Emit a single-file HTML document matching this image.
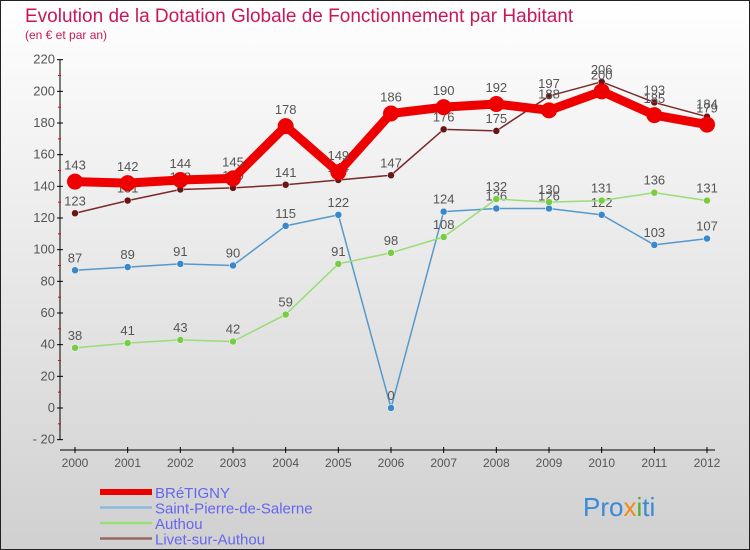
<!DOCTYPE html>
<html><head><meta charset="utf-8"><style>
body{margin:0;}
#wrap{width:750px;height:550px;position:relative;overflow:hidden;font-family:"Liberation Sans",sans-serif;}
</style></head><body>
<div id="wrap">
<svg id="svg" width="750" height="550" xmlns="http://www.w3.org/2000/svg">
<defs><linearGradient id="bg" x1="0" y1="0" x2="0" y2="1"><stop offset="0" stop-color="#ffffff"/><stop offset="1" stop-color="#d0d0d0"/></linearGradient></defs>
<rect x="0.5" y="0.5" width="749" height="549" fill="url(#bg)" stroke="#222"/>
<text x="25" y="22" font-size="19" fill="#c8185a">Evolution de la Dotation Globale de Fonctionnement par Habitant</text>
<text x="25" y="39" font-size="12" fill="#c8185a">(en € et par an)</text>
<g id="axes"></g><g id="series"></g><g id="legend"></g>
<text x="583" y="516" font-size="26" fill="#3a8ad8">Pro<tspan fill="#f08a1a">x</tspan><tspan fill="#55aa33">i</tspan>ti</text>
</svg></div>
<script>
const years=[2000,2001,2002,2003,2004,2005,2006,2007,2008,2009,2010,2011,2012];
const yTicks=[-20,0,20,40,60,80,100,120,140,160,180,200,220];
const names=["BRéTIGNY","Saint-Pierre-de-Salerne","Authou","Livet-sur-Authou"];
const bretigny=[143,142,144,145,178,149,186,190,192,188,200,185,179];
const stPierre=[87,89,91,90,115,122,0,124,126,126,122,103,107];
const authou=[38,41,43,42,59,91,98,108,132,130,131,136,131];
const livet=[123,131,138,139,141,144,147,176,175,197,206,193,184];
const NS="http://www.w3.org/2000/svg";
const X=i=>75+i*(632/12);
const Y=v=>408-v*(380/240);
function mk(p,t,a){const e=document.createElementNS(NS,t);for(const k in a)e.setAttribute(k,a[k]);p.appendChild(e);return e;}
const ax=document.getElementById('axes');
mk(ax,'line',{x1:60,y1:60,x2:60,y2:440,stroke:'#000'});
mk(ax,'line',{x1:60,y1:450,x2:715,y2:450,stroke:'#000'});
yTicks.forEach((t,i)=>{const y=Y(t);
 mk(ax,'line',{x1:57,y1:y,x2:63,y2:y,stroke:'#000'});
 if(i<yTicks.length-1)mk(ax,'line',{x1:58,y1:Y(t+10),x2:61,y2:Y(t+10),stroke:'#e00'});
 const tx=mk(ax,'text',{x:55,y:y+4,'font-size':13,fill:'#555','text-anchor':'end'});tx.textContent=t<0?'- '+(-t):t;
 
 });
years.forEach((yr,i)=>{const x=X(i);
 mk(ax,'line',{x1:x,y1:447,x2:x,y2:453,stroke:'#000'});
 const tx=mk(ax,'text',{x:x,y:467,'font-size':12,fill:'#555','text-anchor':'middle'});tx.textContent=yr;
 
 });
const sg=document.getElementById('series');
const defs=[
 {d:stPierre,c:'#5599cc',pc:'#3a88cc',w:1.5,r:3.5,n:'saint-pierre'},
 {d:authou,c:'#99dd77',pc:'#77cc44',w:1.5,r:3.5,n:'authou'},
 {d:livet,c:'#7a2a2a',pc:'#6a1515',w:1.5,r:3.5,n:'livet'},
 {d:bretigny,c:'#ee0000',pc:'#ee0000',w:9,r:8,n:'bretigny'}];
defs.forEach(s=>{
 const g=mk(sg,'g',{});
 
 
 mk(g,'polyline',{points:s.d.map((v,i)=>X(i)+','+Y(v)).join(' '),fill:'none',stroke:s.c,'stroke-width':s.w,'stroke-linejoin':'round'});
 s.d.forEach((v,i)=>{
  const c=mk(g,'circle',{cx:X(i),cy:Y(v),r:s.r,fill:s.pc,stroke:s.r>5?'none':'#fff','stroke-width':0.5});
  
  
  const t=mk(g,'text',{x:X(i),y:Y(v)-(s.r>5?12:8),'font-size':13,fill:'#555','text-anchor':'middle'});t.textContent=v;
  
  
 });
});
const lg=document.getElementById('legend');
const lc=['#ee0000','#88bbdd','#99dd77','#996666'];
names.forEach((n,i)=>{const y=492+i*15.5;
 const g=mk(lg,'g',{});
 
 
 mk(g,'line',{x1:100,y1:y,x2:152,y2:y,stroke:lc[i],'stroke-width':i==0?6:2.5});
 const t=mk(g,'text',{x:155,y:y+6,'font-size':15,fill:'#6666ee'});t.textContent=n;
});
</script>
</body></html>
